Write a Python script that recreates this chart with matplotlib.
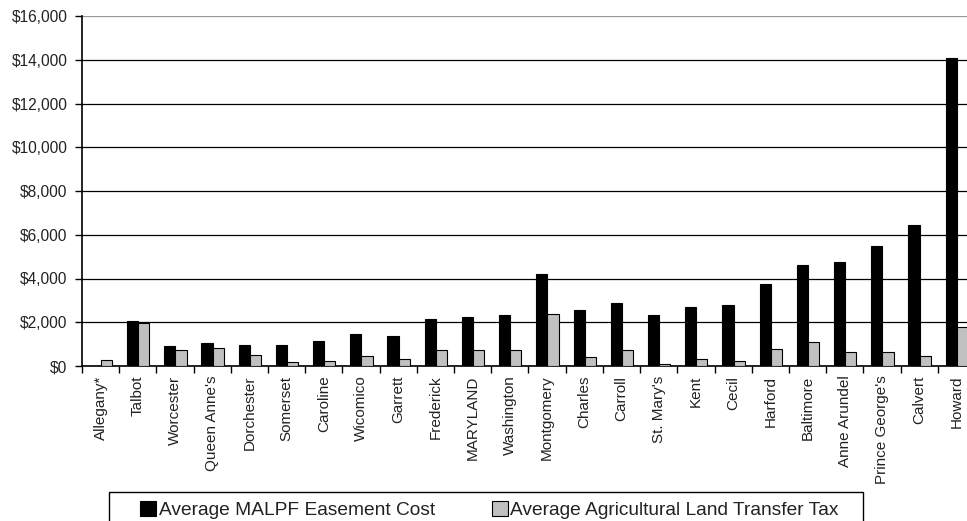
import matplotlib
matplotlib.use("Agg")
import matplotlib.pyplot as plt
import numpy as np
from matplotlib.patches import Rectangle
from matplotlib.ticker import FuncFormatter

plt.rcParams['font.family'] = ['Liberation Sans', 'DejaVu Sans']

counties = ["Allegany*", "Talbot", "Worcester", "Queen Anne's", "Dorchester", "Somerset",
            "Caroline", "Wicomico", "Garrett", "Frederick", "MARYLAND", "Washington",
            "Montgomery", "Charles", "Carroll", "St. Mary's", "Kent", "Cecil", "Harford",
            "Baltimore", "Anne Arundel", "Prince George's", "Calvert", "Howard"]
easement_cost = [0, 2070, 900, 1060, 970, 970, 1130, 1450, 1370, 2160, 2240, 2320,
                 4220, 2560, 2870, 2320, 2710, 2800, 3750, 4620, 4770, 5490, 6430, 14070]
transfer_tax = [260, 1980, 750, 810, 500, 180, 240, 470, 330, 730, 730, 730,
                2380, 400, 730, 100, 330, 240, 790, 1110, 650, 650, 470, 1800]
yticks = list(range(0, 16001, 2000))
series_names = ["Average MALPF Easement Cost", "Average Agricultural Land Transfer Tax"]

W, H = 967, 521
fig = plt.figure(figsize=(W / 100, H / 100), dpi=100)
ax = fig.add_axes([82 / W, 1 - 366 / H, (975 - 82) / W, (366 - 16) / H])

x = np.arange(len(counties))
bw = 0.3
b1 = ax.bar(x - 0.14, easement_cost, width=bw, color='black', edgecolor='black',
            linewidth=0.8, label=series_names[0], zorder=3)
b2 = ax.bar(x + 0.16, transfer_tax, width=bw, color='#c0c0c0', edgecolor='black',
            linewidth=0.8, label=series_names[1], zorder=3)

ax.set_xlim(-0.5, len(counties) - 0.5)
ax.set_ylim(0, 16000)
ax.set_yticks(yticks)
ax.yaxis.set_major_formatter(FuncFormatter(lambda v, p: "${:,.0f}".format(v)))
ax.grid(axis='y', color='black', linewidth=0.9, zorder=0)
ax.set_axisbelow(True)
gl = ax.yaxis.get_gridlines()
gl[-1].set_color('#999999')

ax.set_xticks(x)
ax.set_xticklabels(counties, rotation=90, fontsize=11, color='#222222')
ax.set_xticks(np.arange(-0.5, len(counties)), minor=True)
ax.tick_params(axis='x', which='major', length=0, pad=7)
ax.tick_params(axis='x', which='minor', length=5, width=1, color='black', direction='out')
ax.tick_params(axis='y', length=5, width=1, color='black', direction='out', pad=5.5,
               labelsize=11.2, labelcolor='#222222')

for s in ['top', 'right']:
    ax.spines[s].set_visible(False)
for s in ['left', 'bottom']:
    ax.spines[s].set_color('black')
    ax.spines[s].set_linewidth(1.2)

# legend box
fig.patches.append(Rectangle((109 / W, 1 - 530 / H), (863 - 109) / W, (530 - 492) / H,
                             transform=fig.transFigure, facecolor='white',
                             edgecolor='black', linewidth=1.0))
fig.legend(handles=[b1, b2], labels=series_names, ncol=2, frameon=False,
           loc='upper left', bbox_to_anchor=(127 / W, 1 - 488 / H),
           fontsize=13.8, handlelength=0.8, handleheight=0.8, handletextpad=0.15,
           columnspacing=3.0, borderpad=0.2, labelcolor='#222222')

fig.savefig("out.png", dpi=100)
